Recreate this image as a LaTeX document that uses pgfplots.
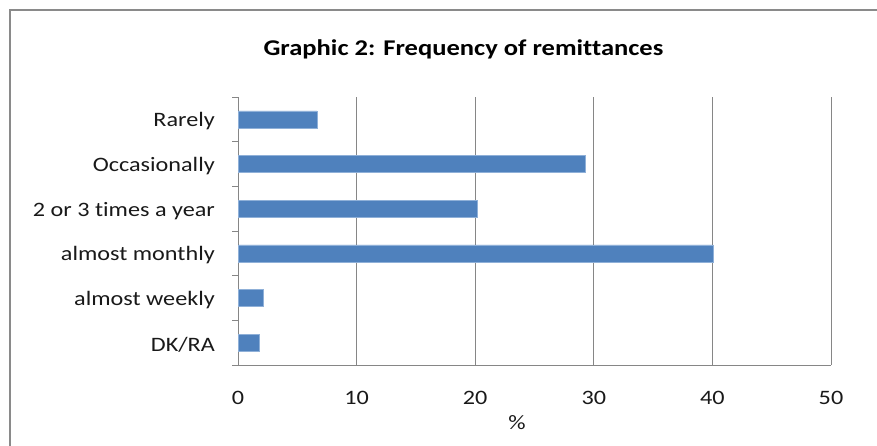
\documentclass[border=0pt]{standalone}
\usepackage{fontspec}
\setmainfont{Carlito}[FakeStretch=1.18, Ligatures=NoCommon]
\usepackage{pgfplots}
\pgfplotsset{compat=1.18}
\definecolor{barblue}{HTML}{4F81BD}
\definecolor{baredge}{HTML}{8FB0D8}
\definecolor{gridgray}{HTML}{868686}
\definecolor{framegray}{HTML}{8A8A8A}
\begin{document}
\begin{tikzpicture}[x=1pt,y=1pt]
\path[use as bounding box] (0,0) rectangle (877,445);
\draw[framegray, line width=2.2pt] (10,-5) -- (10,435) -- (885,435);
\node[font=\fontsize{22.5}{25}\selectfont\bfseries, anchor=center, text=black] at (463.5,396) {Graphic 2: Frequency of remittances};
\begin{axis}[
  at={(238pt,80pt)}, anchor=south west,
  scale only axis, width=593pt, height=268pt,
  xbar, bar width=17pt,
  xmin=0, xmax=50, ymin=-0.5, ymax=5.5,
  xtick={0,10,20,30,40,50},
  ytick={0,1,2,3,4,5},
  yticklabels={DK/RA, almost weekly, almost monthly, 2 or 3 times a year, Occasionally, Rarely},
  extra y ticks={-0.5,0.5,1.5,2.5,3.5,4.5,5.5},
  extra y tick labels={},
  extra y tick style={major tick length=6pt, tick align=outside, tick style={gridgray, line width=0.8pt}},
  major tick length=0pt,
  x axis line style={gridgray, line width=1pt},
  y axis line style={gridgray, line width=1pt},
  axis x line*=bottom, axis y line*=left,
  xmajorgrids, major grid style={gridgray, line width=0.8pt},
  tick style={gridgray},
  /pgf/number format/assume math mode=true,
  tick label style={font=\fontsize{20.5}{23}\selectfont, text=black!90, inner sep=0pt},
  yticklabel style={anchor=east, xshift=-23pt, yshift=-2pt},
  xticklabel style={anchor=north, yshift=-26pt},
  xlabel={\%},
  xlabel style={font=\fontsize{20.5}{23}\selectfont, text=black!90, at={(rel axis cs:0.4705,0)}, anchor=center, yshift=-58pt, inner sep=0pt},
  clip=false,
]
\addplot[fill=barblue, draw=baredge, line width=0.6pt] coordinates {
  (1.77,0) (2.1,1) (40.05,2) (20.15,3) (29.3,4) (6.65,5)
};
\end{axis}
\end{tikzpicture}
\end{document}
